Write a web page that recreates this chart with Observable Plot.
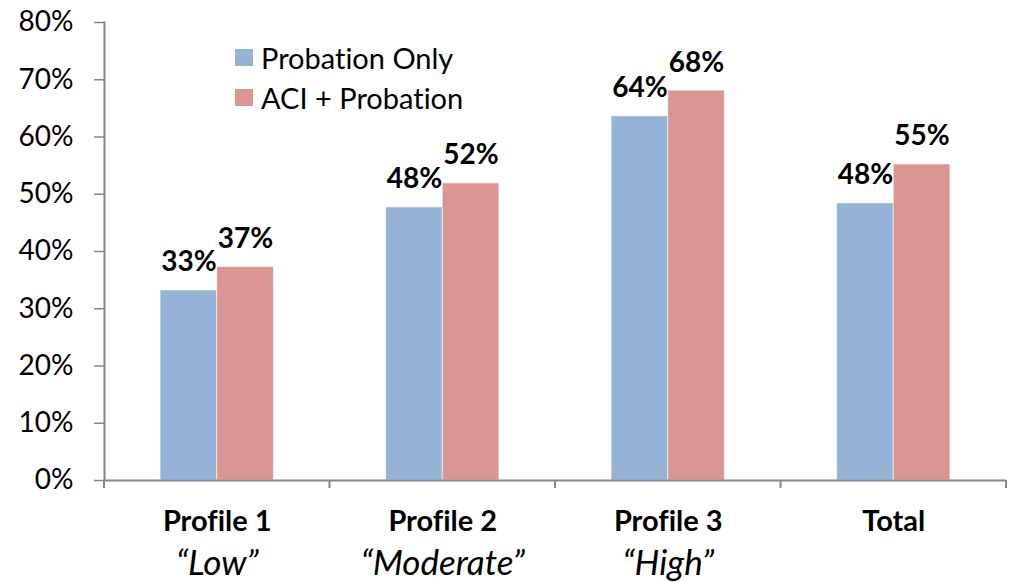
<!DOCTYPE html>
<html><head><meta charset="utf-8">
<script src="https://cdn.jsdelivr.net/npm/d3@7"></script>
<script src="https://cdn.jsdelivr.net/npm/@observablehq/plot@0.6"></script>
<style>
body{margin:0;background:#fff;font-family:Lato,sans-serif;}
#wrap{position:relative;width:1013px;height:582px;overflow:hidden;background:#fff;}
#wrap, #wrap svg text{font-variant-ligatures:none;font-feature-settings:"liga" 0, "clig" 0;}
#legend{position:absolute;left:235px;top:37px;font-size:29px;color:#000;}
.item{display:flex;align-items:center;height:40px;white-space:nowrap;}
.sw{width:18px;height:17px;margin-right:8px;flex:none;}
</style></head><body><div id="wrap"><div id="legend"></div></div>
<script>
const categories = ["Profile 1", "Profile 2", "Profile 3", "Total"];
const subLabels = ["“Low”", "“Moderate”", "“High”", ""];
const series = ["Probation Only", "ACI + Probation"];
const probationOnly = [33.2, 47.7, 63.6, 48.4];
const aciProbation = [37.3, 51.9, 68.1, 55.2];
const yTicks = [0, 10, 20, 30, 40, 50, 60, 70, 80];
const colors = ["#95B3D7", "#D99694"];
const axisGray = "#868686";

const rows = categories.flatMap((c, i) => [
  {cat: c, series: series[0], value: probationOnly[i]},
  {cat: c, series: series[1], value: aciProbation[i]}
]);

const plot = Plot.plot({
  width: 1013, height: 582,
  marginLeft: 104, marginRight: 7, marginTop: 22, marginBottom: 102,
  style: {fontFamily: "Lato, sans-serif", fontSize: "28px", color: "black", background: "white", overflow: "visible"},
  fx: {domain: categories, padding: 0, round: false, axis: null},
  x: {domain: series, paddingInner: 0, paddingOuter: 0.99, round: false, axis: null},
  y: {domain: [0, 80], axis: null},
  color: {domain: series, range: colors},
  marks: [
    Plot.barY(rows, {fx: "cat", x: "series", y: "value", fill: "series", stroke: "white", strokeWidth: 1, strokeOpacity: 0.6}),
    Plot.axisY({ticks: yTicks, tickSize: 10, tickPadding: 21, tickFormat: d => d + "%", label: null, stroke: axisGray, fill: "black", strokeWidth: 1.5}),
    Plot.frame({anchor: "left", stroke: axisGray, strokeWidth: 2, facetAnchor: "left"}),
    Plot.ruleY([0], {stroke: axisGray, strokeWidth: 2}),
    Plot.text(rows, {fx: "cat", x: "series", y: "value", text: d => Math.round(d.value) + "%", lineAnchor: "bottom", dy: -19, fontWeight: "bold"}),
    Plot.text(categories, {fx: d => d, text: d => d, frameAnchor: "bottom", lineAnchor: "bottom", dy: 50, fontWeight: "bold", fontSize: 29}),
    Plot.text(categories, {fx: d => d, text: (d, i) => subLabels[i], frameAnchor: "bottom", lineAnchor: "bottom", dy: 94, fontStyle: "italic", fontSize: 35})
  ]
});

document.getElementById("wrap").prepend(plot);

// category boundary ticks on the x axis, from Plot's own scales
const fxS = plot.scale("fx");
const yS = plot.scale("y");
const band = d3.scaleBand(fxS.domain, fxS.range).paddingInner(fxS.paddingInner ?? 0).paddingOuter(fxS.paddingOuter ?? 0).align(fxS.align ?? 0.5);
const yScale = d3.scaleLinear(yS.domain, yS.range);
const y0 = yScale(0);
const edges = categories.map(c => band(c)).concat([band(categories[categories.length - 1]) + band.bandwidth()]);
const svg = d3.select(plot);
svg.append("g").selectAll("line").data(edges).join("line")
  .attr("x1", d => d).attr("x2", d => d)
  .attr("y1", y0).attr("y2", y0 + 8)
  .attr("stroke", axisGray).attr("stroke-width", 2);

// legend
const legend = d3.select("#legend");
series.forEach((s, i) => {
  const it = legend.append("div").attr("class", "item");
  it.append("div").attr("class", "sw").style("background", colors[i]);
  it.append("span").text(s);
});
</script></body></html>
